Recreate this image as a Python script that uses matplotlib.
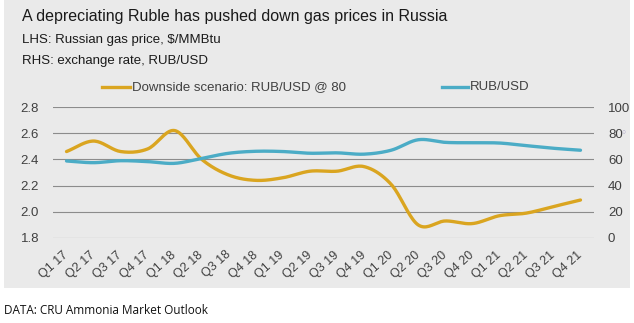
import numpy as np
import matplotlib
matplotlib.use("Agg")
import matplotlib.pyplot as plt
from matplotlib.lines import Line2D

quarters = ["Q1 17", "Q2 17", "Q3 17", "Q4 17", "Q1 18", "Q2 18", "Q3 18", "Q4 18",
            "Q1 19", "Q2 19", "Q3 19", "Q4 19", "Q1 20", "Q2 20", "Q3 20", "Q4 20",
            "Q1 21", "Q2 21", "Q3 21", "Q4 21"]
gas_price = [2.46, 2.54, 2.46, 2.48, 2.62, 2.40, 2.28, 2.24, 2.26, 2.31,
             2.31, 2.345, 2.21, 1.90, 1.93, 1.91, 1.97, 1.99, 2.04, 2.09]
rub_usd = [58.8, 57.5, 59.0, 58.3, 57.0, 60.8, 64.7, 66.2, 66.0, 64.7,
           65.0, 64.0, 67.0, 75.0, 73.0, 72.7, 72.5, 70.5, 68.5, 67.0]

GOLD = "#DAA520"
BLUE = "#4BACC6"
BG = "#EAEAEA"
GRID = "#8C8C8C"
TXT = "#404040"

def smooth(xs, ys, n=20):
    # Catmull-Rom spline through the data points (like Excel smoothed lines)
    xs = np.asarray(xs, float); ys = np.asarray(ys, float)
    px = np.concatenate([[2*xs[0]-xs[1]], xs, [2*xs[-1]-xs[-2]]])
    py = np.concatenate([[2*ys[0]-ys[1]], ys, [2*ys[-1]-ys[-2]]])
    ox, oy = [], []
    t = np.linspace(0, 1, n, endpoint=False)
    for i in range(1, len(px)-2):
        for P, out in ((px, ox), (py, oy)):
            p0, p1, p2, p3 = P[i-1], P[i], P[i+1], P[i+2]
            v = 0.5*((2*p1) + (-p0+p2)*t + (2*p0-5*p1+4*p2-p3)*t**2 + (-p0+3*p1-3*p2+p3)*t**3)
            out.extend(v)
    ox.append(xs[-1]); oy.append(ys[-1])
    return np.array(ox), np.array(oy)

plt.rcParams['font.family'] = ['Liberation Sans', 'DejaVu Sans']

W, H = 634, 323
fig = plt.figure(figsize=(W/100, H/100), dpi=100)
fig.patch.set_facecolor("white")
bg = fig.add_axes([4/W, 1-288/H, 626/W, 288/H], zorder=-5)
bg.set_facecolor(BG)
bg.set_xticks([]); bg.set_yticks([])
for s in bg.spines.values():
    s.set_visible(False)

ax = fig.add_axes([53/W, 1-238/H, (594-53)/W, 131/H])
ax.set_facecolor("none")
ax2 = ax.twinx()
ax2.set_facecolor("none")

x = np.arange(len(quarters))
sx, sy = smooth(x, gas_price)
ax.plot(sx, sy, color=GOLD, lw=2.4, solid_capstyle="round", zorder=3)
bx, by = smooth(x, rub_usd)
ax2.plot(bx, by, color=BLUE, lw=2.4, solid_capstyle="round", zorder=3)

ax.set_xlim(-0.5, len(quarters)-0.5)
ax.set_ylim(1.8, 2.8)
ax.set_yticks([1.8, 2.0, 2.2, 2.4, 2.6, 2.8])
ax.set_yticklabels(["1.8", "2.0", "2.2", "2.4", "2.6", "2.8"])
ax2.set_ylim(0, 100)
ax2.set_yticks([0, 20, 40, 60, 80, 100])
for yv in [1.8, 2.0, 2.2, 2.4, 2.6, 2.8]:
    ax.axhline(yv, color=GRID, lw=0.8, zorder=1)

ax.set_xticks(x)
ax.set_xticklabels(quarters, rotation=42, ha="right", va="center", rotation_mode="anchor")
for a in (ax, ax2):
    for s in a.spines.values():
        s.set_visible(False)
    a.tick_params(length=0, labelsize=9.5, colors=TXT)
ax.tick_params(axis="x", pad=11, labelsize=9)
ax.tick_params(axis="y", pad=10)
ax2.tick_params(axis="y", pad=10)

# small marker near the 80 label, as in the reference
fig.text(624/W, 1-133/H, "○", fontsize=5, color="#A9A2C8", ha="center", va="center")

fig.text(22/W, 1-17/H, "A depreciating Ruble has pushed down gas prices in Russia",
         fontsize=11.5, color="#1A1A1A", ha="left", va="center")
fig.text(22/W, 1-40/H, "LHS: Russian gas price, $/MMBtu", fontsize=9.5, color="#1A1A1A",
         ha="left", va="center")
fig.text(22/W, 1-61/H, "RHS: exchange rate, RUB/USD", fontsize=9.5, color="#1A1A1A",
         ha="left", va="center")

# legend
ly = 1-87/H
fig.lines.append(Line2D([102/W, 130/W], [ly, ly], transform=fig.transFigure, color=GOLD, lw=2.4))
fig.text(132/W, ly, "Downside scenario: RUB/USD @ 80", fontsize=9.5, color=TXT, ha="left", va="center")
fig.lines.append(Line2D([442/W, 468/W], [ly, ly], transform=fig.transFigure, color=BLUE, lw=2.4))
fig.text(470/W, ly, "RUB/USD", fontsize=9.5, color=TXT, ha="left", va="center")

fig.text(4/W, 1-311/H, "DATA: CRU Ammonia Market Outlook", fontsize=8.5, color="#111111",
         ha="left", va="center", family=["Open Sans", "DejaVu Sans"])

fig.savefig("out.png", dpi=100)
